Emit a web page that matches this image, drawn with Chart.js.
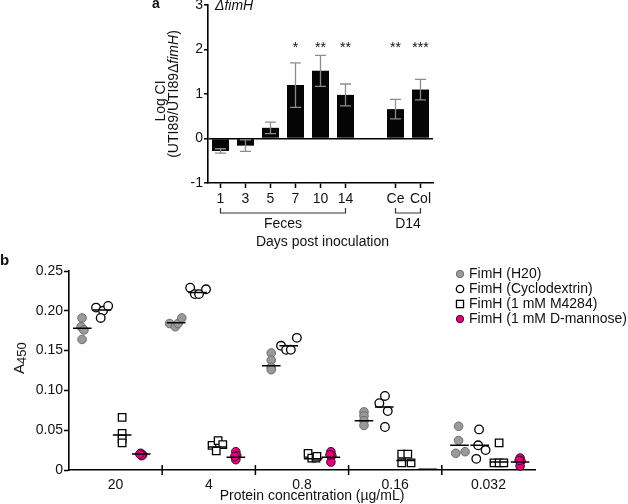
<!DOCTYPE html>
<html>
<head>
<meta charset="utf-8">
<script src="https://cdn.jsdelivr.net/npm/chart.js@4.4.1/dist/chart.umd.min.js"></script>
<style>
html,body{margin:0;padding:0;background:#fff;width:628px;height:504px;overflow:hidden;position:relative}
#ca{position:absolute;left:130px;top:-20px}
#cb{position:absolute;left:0;top:250px}
</style>
</head>
<body>
<canvas id="ca" width="320" height="270"></canvas>
<canvas id="cb" width="628" height="254"></canvas>
<script>
// ---------- Panel a data ----------
const daysLabels = ['1', '3', '5', '7', '10', '14', '', 'Ce', 'Col'];
const logCI = [-0.28, -0.16, 0.24, 1.2, 1.52, 0.98, null, 0.66, 1.1];
const logCIerr = [0.05, 0.13, 0.13, 0.5, 0.35, 0.245, null, 0.22, 0.23];
const sigStars = ['', '', '', '*', '**', '**', '', '**', '***'];
const yTickValsA = [-1, 0, 1, 2, 3];
const yTickLabelsA = ['-1', '0', '1', '2', '3'];
const groupNamesA = ['Feces', 'D14'];
const groupStartA = [0, 7];
const groupEndA = [5, 8];

// ---------- Panel b data ----------
const concLabels = ['20', '4', '0.8', '0.16', '0.032'];
const yTickValsB = [0, 0.05, 0.10, 0.15, 0.20, 0.25];
const yTickLabelsB = ['0', '0.05', '0.10', '0.15', '0.20', '0.25'];
const seriesNames = ['FimH (H20)', 'FimH (Cyclodextrin)', 'FimH (1 mM M4284)', 'FimH (1 mM D-mannose)'];
const h20 = [[0.191, 0.180, 0.176, 0.164], [0.184, 0.180, 0.184, 0.191], [0.147, 0.138, 0.129, 0.126], [0.073, 0.068, 0.062, 0.056], [0.055, 0.037, 0.021, 0.023]];
const cyclo = [[0.204, 0.200, 0.206, 0.191], [0.229, 0.221, 0.221, 0.227], [0.156, 0.151, 0.151, 0.166], [0.084, 0.093, 0.074, 0.054], [0.051, 0.031, 0.025, 0.014]];
const m4284 = [[0.066, 0.046, 0.039, 0.034], [0.031, 0.037, 0.032, 0.024], [0.021, 0.015, 0.015, 0.017], [0.020, 0.020, 0.009, 0.009], [0.034, 0.009, 0.009, 0.009]];
const mannose = [[0.021, 0.019, 0.018, 0.020], [0.023, 0.018, 0.013, 0.017], [0.023, 0.018, 0.010, 0.019], [], [0.015, 0.011, 0.005, 0.012]];
const h20Med = [0.178, 0.185, 0.131, 0.062, 0.031];
const cycloMed = [0.201, 0.223, 0.156, 0.079, 0.031];
const m4284Med = [0.044, 0.029, 0.014, 0.012, 0.010];
const mannoseMed = [0.020, 0.016, 0.016, 0.001, 0.010];

// horizontal placement (category units) of each point within its category
const h20X = [[-0.36, -0.37, -0.34, -0.36], [-0.42, -0.36, -0.33, -0.29], [-0.33, -0.33, -0.33, -0.33], [-0.335, -0.335, -0.335, -0.335], [-0.32, -0.32, -0.35, -0.25]];
const cycloX = [[-0.21, -0.135, -0.08, -0.16], [-0.2, -0.15, -0.105, -0.03], [-0.225, -0.17, -0.12, -0.055], [-0.17, -0.11, -0.08, -0.11], [-0.10, -0.11, -0.03, -0.13]];
const m4284X = [[0.07, 0.07, 0.07, 0.07], [0.035, 0.10, 0.15, 0.08], [0.065, 0.105, 0.15, 0.16], [0.07, 0.135, 0.07, 0.17], [0.115, 0.06, 0.115, 0.165]];
const mannoseX = [[0.27, 0.29, 0.28, 0.26], [0.29, 0.30, 0.29, 0.28], [0.31, 0.32, 0.31, 0.30], [], [0.34, 0.35, 0.34, 0.33]];
const groupCenters = [-0.33, -0.12, 0.11, 0.35];

const FONT = "'Liberation Sans', Arial, Helvetica, sans-serif";
Chart.defaults.font.family = FONT;
Chart.defaults.font.size = 14;
Chart.defaults.color = '#111';
Chart.defaults.animation = false;

// ---------- Panel a ----------
const pluginA = {
  id: 'panelA',
  afterDatasetsDraw(chart) {
    const {ctx, scales: {x, y}} = chart;
    ctx.save();
    ctx.strokeStyle = '#8c8c8c';
    ctx.lineWidth = 1.3;
    logCI.forEach((v, i) => {
      if (v == null) return;
      const px = x.getPixelForValue(i);
      const t = y.getPixelForValue(v + logCIerr[i]);
      const b = y.getPixelForValue(v - logCIerr[i]);
      ctx.beginPath();
      ctx.moveTo(px, t); ctx.lineTo(px, b);
      ctx.moveTo(px - 5.5, t); ctx.lineTo(px + 5.5, t);
      ctx.moveTo(px - 5.5, b); ctx.lineTo(px + 5.5, b);
      ctx.stroke();
    });
    ctx.restore();
  },
  afterDraw(chart) {
    const {ctx, chartArea: ca, scales: {x, y}} = chart;
    ctx.save();
    ctx.fillStyle = '#111';
    ctx.textAlign = 'center';
    ctx.textBaseline = 'alphabetic';
    ctx.font = '14px ' + FONT;
    sigStars.forEach((s, i) => {
      if (s) ctx.fillText(s, x.getPixelForValue(i), y.getPixelForValue(2) + 2);
    });
    // brackets
    ctx.strokeStyle = '#333';
    ctx.lineWidth = 1.2;
    ctx.textBaseline = 'middle';
    groupNamesA.forEach((name, g) => {
      const xa = x.getPixelForValue(groupStartA[g]);
      const xb = x.getPixelForValue(groupEndA[g]);
      const yb = ca.bottom + 30;
      ctx.beginPath();
      ctx.moveTo(xa, yb - 5); ctx.lineTo(xa, yb); ctx.lineTo(xb, yb); ctx.lineTo(xb, yb - 5);
      ctx.stroke();
      ctx.fillText(name, (xa + xb) / 2, ca.bottom + 41);
    });
    ctx.fillText('Days post inoculation', (ca.left + ca.right) / 2 + 2, ca.bottom + 59);
    // y title
    const cy = (ca.top + ca.bottom) / 2;
    ctx.save();
    ctx.translate(ca.left - 47, cy + 7);
    ctx.rotate(-Math.PI / 2);
    ctx.fillText('Log CI', 0, 0);
    ctx.restore();
    const parts = [['(UTI89/UTI89\u0394', false], ['fimH', true], [')', false]];
    ctx.save();
    ctx.translate(ca.left - 34, cy);
    ctx.rotate(-Math.PI / 2);
    ctx.textAlign = 'left';
    const widths = parts.map(([t, it]) => { ctx.font = (it ? 'italic ' : '') + '14px ' + FONT; return ctx.measureText(t).width; });
    let xx = -widths.reduce((a, b) => a + b, 0) / 2;
    parts.forEach(([t, it], k) => { ctx.font = (it ? 'italic ' : '') + '14px ' + FONT; ctx.fillText(t, xx, 0); xx += widths[k]; });
    ctx.restore();
    // header texts
    ctx.textAlign = 'left';
    ctx.font = 'italic 14px ' + FONT;
    ctx.fillText('\u0394fimH', ca.left + 7, ca.top + 1);
    ctx.font = 'bold 14px ' + FONT;
    ctx.fillText('a', ca.left - 56, ca.top - 1);
    ctx.restore();
  }
};

new Chart(document.getElementById('ca'), {
  type: 'bar',
  data: {
    labels: daysLabels,
    datasets: [{ data: logCI, backgroundColor: '#050505', borderWidth: 0, barPercentage: 0.68, categoryPercentage: 1 }]
  },
  options: {
    responsive: false,
    events: [],
    layout: { padding: { left: 0, right: 17, top: 25, bottom: 0 } },
    plugins: { legend: { display: false }, tooltip: { enabled: false } },
    scales: {
      x: {
        grid: {
          offset: false, drawOnChartArea: false, tickLength: 5, tickWidth: 1.5,
          tickColor: c => daysLabels[c.index] ? '#000' : 'rgba(0,0,0,0)'
        },
        border: { color: '#000', width: 1.6 },
        ticks: { padding: 3, maxRotation: 0, autoSkip: false, color: '#111' },
        afterFit: s => { s.height = 67; }
      },
      y: {
        min: -1, max: 3,
        afterBuildTicks: s => { s.ticks = yTickValsA.map(v => ({ value: v })); },
        ticks: { padding: 1, callback: (v, i) => yTickLabelsA[i], color: '#111' },
        grid: {
          color: c => (c.tick && c.tick.value === 0) ? '#000' : 'rgba(0,0,0,0)',
          lineWidth: 1.6, tickColor: '#000', tickLength: 4, tickWidth: 1.5
        },
        border: { color: '#000', width: 1.6 },
        afterFit: s => { s.width = 78; }
      }
    }
  },
  plugins: [pluginA]
});

// ---------- Panel b ----------
function mean(a) { return a.reduce((s, v) => s + v, 0) / a.length; }
function pts(vals, xs) {
  const out = [];
  vals.forEach((arr, i) => arr.forEach((v, k) => out.push({ x: i + xs[i][k], y: v })));
  return out;
}
const medData = [];
[[h20Med, h20X], [cycloMed, cycloX], [m4284Med, m4284X], [mannoseMed, mannoseX]].forEach(([med, xs], g) => {
  med.forEach((m, i) => {
    const c = i + (xs[i].length ? mean(xs[i]) : groupCenters[g]);
    medData.push({ x: c - 0.1, y: m }, { x: c + 0.1, y: m }, { x: c + 0.1, y: null });
  });
});

const styles = [
  { pointStyle: 'circle', pointRadius: 4.3, backgroundColor: '#9a9a9a', borderColor: '#6b6b6b', borderWidth: 1 },
  { pointStyle: 'circle', pointRadius: 4.3, backgroundColor: '#ffffff', borderColor: '#000000', borderWidth: 1.3 },
  { pointStyle: 'rect', pointRadius: 5.3, backgroundColor: '#ffffff', borderColor: '#000000', borderWidth: 1.3 },
  { pointStyle: 'circle', pointRadius: 4.3, backgroundColor: '#e3007d', borderColor: '#3a0a22', borderWidth: 1 }
];

function drawMarker(ctx, st, x, y, r) {
  ctx.beginPath();
  if (st.pointStyle === 'rect') {
    const h = r * Math.SQRT1_2;
    ctx.rect(x - h, y - h, 2 * h, 2 * h);
  } else {
    ctx.arc(x, y, r, 0, Math.PI * 2);
  }
  ctx.fillStyle = st.backgroundColor;
  ctx.fill();
  ctx.lineWidth = st.borderWidth;
  ctx.strokeStyle = st.borderColor;
  ctx.stroke();
}

const pluginB = {
  id: 'panelB',
  afterDraw(chart) {
    const {ctx, chartArea: ca, scales: {x}} = chart;
    ctx.save();
    ctx.strokeStyle = '#000';
    ctx.lineWidth = 1.5;
    for (let i = 0; i < concLabels.length - 1; i++) {
      const px = x.getPixelForValue(i + 0.5);
      ctx.beginPath();
      ctx.moveTo(px, ca.bottom - 5); ctx.lineTo(px, ca.bottom + 5);
      ctx.stroke();
    }
    ctx.fillStyle = '#111';
    ctx.font = '14px ' + FONT;
    ctx.textAlign = 'center';
    ctx.textBaseline = 'middle';
    ctx.fillText('Protein concentration (\u00b5g/mL)', (ca.left + ca.right) / 2 + 10, ca.bottom + 26);
    // y title A450
    ctx.save();
    ctx.translate(24, 124);
    ctx.rotate(-Math.PI / 2);
    ctx.textAlign = 'left';
    ctx.textBaseline = 'alphabetic';
    ctx.font = '15px ' + FONT;
    ctx.fillText('A', 0, 0);
    const w = ctx.measureText('A').width;
    ctx.font = '13px ' + FONT;
    ctx.fillText('450', w, 1.5);
    ctx.restore();
    // panel letter
    ctx.textAlign = 'left';
    ctx.font = 'bold 15px ' + FONT;
    ctx.fillText('b', 0, 11);
    // legend
    ctx.font = '14px ' + FONT;
    seriesNames.forEach((name, k) => {
      const ly = 24 + k * 15;
      const st = styles[k];
      drawMarker(ctx, st, 460, ly, st.pointStyle === 'rect' ? 5 : 3.7);
      ctx.fillStyle = '#111';
      ctx.fillText(name, 469, ly);
    });
    ctx.restore();
  }
};

const seriesVals = [[h20, h20X], [cyclo, cycloX], [m4284, m4284X], [mannose, mannoseX]];
const datasetsB = [{ data: medData, showLine: true, borderColor: '#000', borderWidth: 1.5, pointRadius: 0, spanGaps: false, order: 0, clip: false }];
seriesVals.forEach(([v, xs], k) => {
  datasetsB.push(Object.assign({ data: pts(v, xs), order: 4 - k, clip: false }, styles[k]));
});

new Chart(document.getElementById('cb'), {
  type: 'scatter',
  data: { datasets: datasetsB },
  options: {
    responsive: false,
    events: [],
    layout: { padding: { left: 0, right: 93, top: 21, bottom: 0 } },
    plugins: { legend: { display: false }, tooltip: { enabled: false } },
    scales: {
      x: {
        type: 'linear', min: -0.5, max: 4.5,
        afterBuildTicks: s => { s.ticks = concLabels.map((_, i) => ({ value: i })); },
        ticks: { callback: (v) => concLabels[Math.round(v)], padding: 7, maxRotation: 0, autoSkip: false, color: '#111' },
        grid: { drawOnChartArea: false, drawTicks: false },
        border: { color: '#000', width: 1.6 },
        afterFit: s => { s.height = 34; }
      },
      y: {
        min: 0, max: 0.25,
        afterBuildTicks: s => { s.ticks = yTickValsB.map(v => ({ value: v })); },
        ticks: { padding: 1, callback: (v, i) => yTickLabelsB[i], color: '#111' },
        grid: { drawOnChartArea: false, tickLength: 5, tickColor: '#000', tickWidth: 1.5, color: '#000' },
        border: { color: '#000', width: 1.6 },
        afterFit: s => { s.width = 69; }
      }
    }
  },
  plugins: [pluginB]
});
</script>
</body>
</html>
